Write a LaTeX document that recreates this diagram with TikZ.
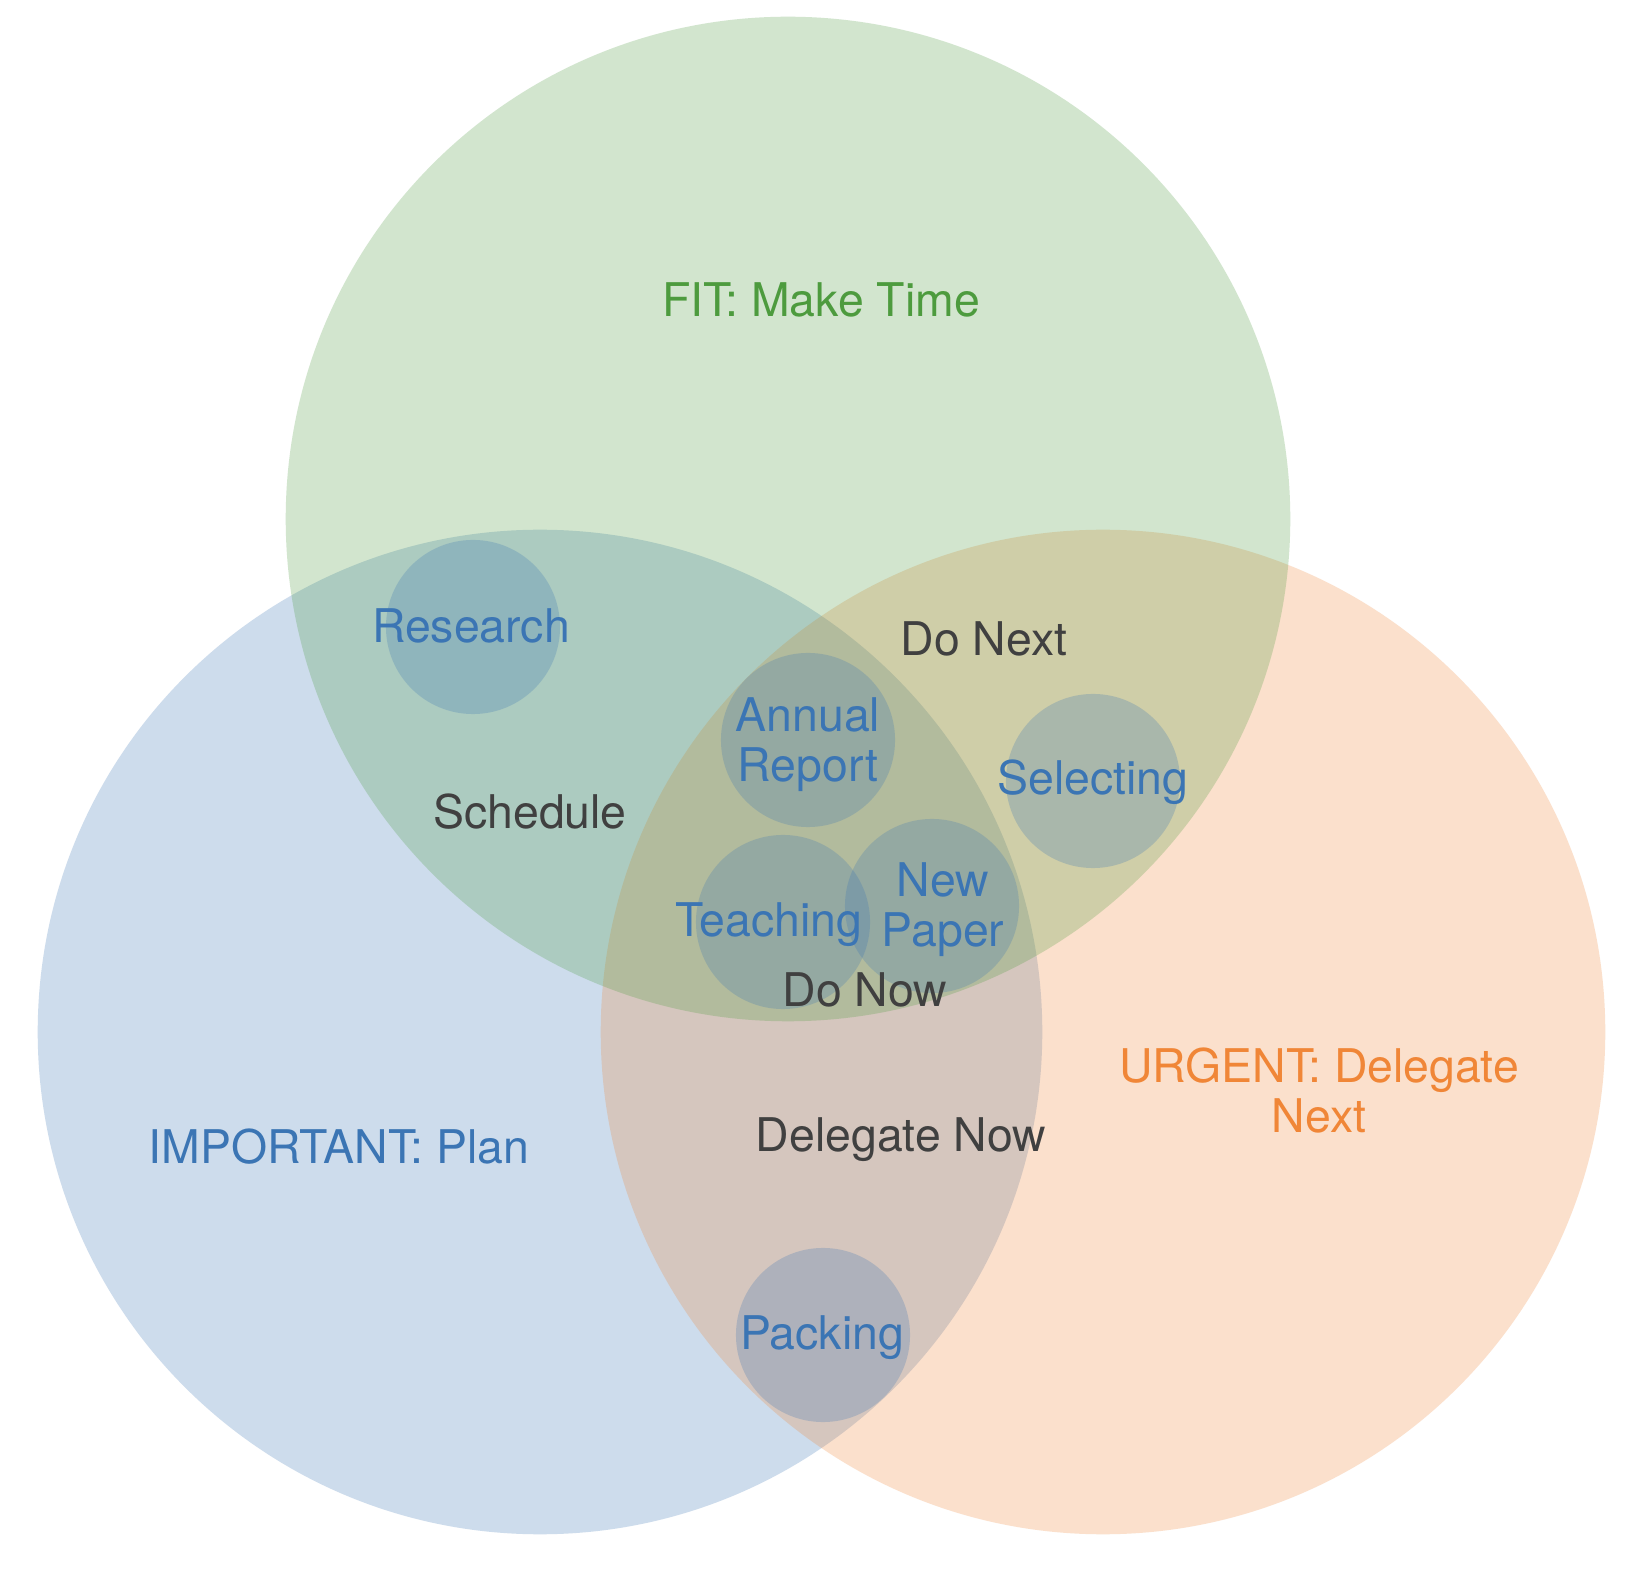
\documentclass[tikz,border=0pt]{standalone}
\usepackage{fontspec}
\setmainfont{TeX Gyre Heros}
\definecolor{cblue}{RGB}{59,117,180}
\definecolor{cgreen}{RGB}{77,155,62}
\definecolor{corange}{RGB}{240,134,55}
\definecolor{ctext}{RGB}{64,64,64}
\tikzset{
  bigset/.style={circle, inner sep=0pt, minimum size=10.04cm, fill opacity=0.25, draw=none},
  item/.style={circle, inner sep=0pt, minimum size=1.74cm, fill=cblue, fill opacity=0.25, draw=none},
  lbl/.style={inner sep=0pt, anchor=base, align=center, font=\fontsize{13.2}{14.5}\selectfont},
  setlbl/.style={lbl},
  itemlbl/.style={lbl, text=cblue},
  zonelbl/.style={lbl, text=ctext}
}
\begin{document}
\begin{tikzpicture}[x=0.01cm, y=-0.01cm]
\useasboundingbox[fill=white] (0,0) rectangle (1642,1586);
% big sets
\node[bigset, fill=cblue]   (important) at (540,1032) {};
\node[bigset, fill=corange] (urgent)    at (1103,1032) {};
\node[bigset, fill=cgreen]  (fit)       at (788,519) {};
% items
\node[item] (research) at (473,627) {};
\node[item] (annual)   at (808,740) {};
\node[item] (selecting) at (1093,781) {};
\node[item] (teaching) at (783,922) {};
\node[item] (newpaper) at (932,906) {};
\node[item] (packing)  at (823,1335) {};
% set labels
\node[setlbl, text=cgreen]  (fitlbl) at (821,317) {FIT: Make Time};
\node[setlbl, text=cblue]   (implbl) at (339,1163) {IMPORTANT: Plan};
\node[setlbl, text=corange] (urglbl) at (1319,1133) {URGENT: Delegate\\Next};
% zone labels
\node[zonelbl] (donext)   at (984,656) {Do Next};
\node[zonelbl] (schedule) at (530,829) {Schedule};
\node[zonelbl] (donow)    at (865,1007) {Do Now};
\node[zonelbl] (delnow)   at (901,1152) {Delegate Now};
% item labels
\node[itemlbl] (researchlbl)  at (471,643) {Research};
\node[itemlbl] (annuallbl)    at (808,782) {Annual\\Report};
\node[itemlbl] (selectinglbl) at (1093,795) {Selecting};
\node[itemlbl] (teachinglbl)  at (769,937) {Teaching};
\node[itemlbl] (newpaperlbl)  at (943,947) {New\\Paper};
\node[itemlbl] (packinglbl)   at (822,1350) {Packing};
\end{tikzpicture}
\end{document}
